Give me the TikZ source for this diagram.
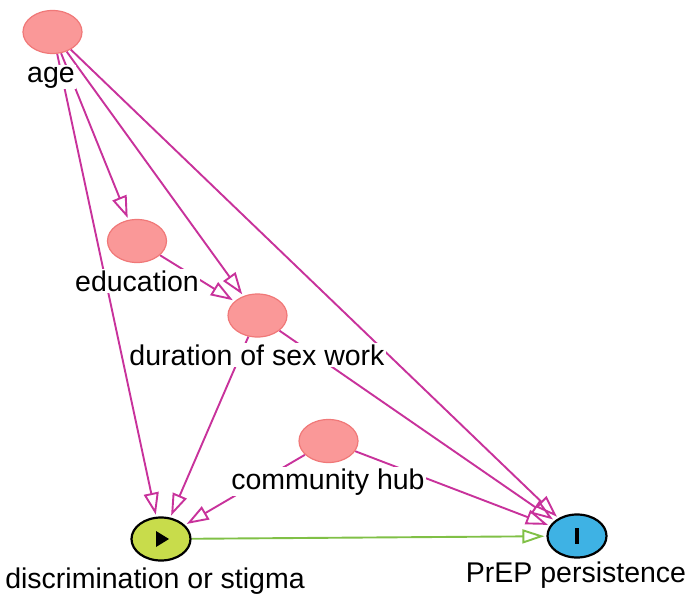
\documentclass[tikz,border=0pt]{standalone}
\usepackage{fontspec}
\setmainfont{Liberation Sans}
\usetikzlibrary{arrows.meta,shapes.geometric,calc}
\pgfdeclarelayer{background}
\pgfsetlayers{background,main}
\definecolor{edgemag}{RGB}{200,50,155}
\definecolor{edgegreen}{RGB}{128,192,70}
\definecolor{pinkfill}{RGB}{250,152,152}
\definecolor{pinkline}{RGB}{240,120,120}
\definecolor{expfill}{RGB}{200,220,75}
\definecolor{outfill}{RGB}{62,178,228}
\begin{document}
\begin{tikzpicture}[x=1pt,y=-1pt,
  var/.style={ellipse, minimum width=59pt, minimum height=43pt, inner sep=0pt},
  adj/.style={var, fill=pinkfill, draw=pinkline, line width=1.2pt},
  keyvar/.style={var, draw=black, line width=2.2pt},
  lbl/.style={font=\fontsize{28.5}{30}\selectfont, fill=white, inner sep=1.5pt, anchor=base},
  biasedge/.style={draw=edgemag, line width=1.9pt, shorten >=2pt, -{Triangle[open,length=22pt,width=15pt]}},
  causaledge/.style={draw=edgegreen, line width=1.9pt, shorten >=2pt, -{Triangle[open,length=22pt,width=14pt]}}]
\useasboundingbox (0,0) rectangle (699,594);

\node[adj] (age) at (52.5,32) {};
\node[adj] (edu) at (137,241) {};
\node[adj] (dur) at (257.5,315.5) {};
\node[adj] (hub) at (328.5,441) {};
\node[keyvar, fill=expfill] (dis) at (161,539) {};
\node[keyvar, fill=outfill] (prep) at (577,536) {};

\fill[black] ($(dis.center)+(-5,-8)$) -- ($(dis.center)+(8,0)$) -- ($(dis.center)+(-5,8)$) -- cycle;
\fill[black] ($(prep.center)+(-2.2,-8)$) rectangle ($(prep.center)+(2.2,8)$);

\begin{pgfonlayer}{background}
\draw[biasedge] (age) -- (edu);
\draw[biasedge] (age) -- (dur);
\draw[biasedge] (age) -- (dis);
\draw[biasedge] (age) -- (prep);
\draw[biasedge] (edu) -- (dur);
\draw[biasedge] (dur) -- (dis);
\draw[biasedge] (dur) -- (prep);
\draw[biasedge] (hub) -- (dis);
\draw[biasedge] (hub) -- (prep);
\draw[causaledge] (dis) -- (prep);
\end{pgfonlayer}

\node[lbl] (lage) at (51,82) {age};
\node[lbl] (ledu) at (137,291) {education};
\node[lbl] (ldur) at (257,365) {duration of sex work};
\node[lbl] (lhub) at (328,489) {community hub};
\node[lbl] (ldis) at (155,588) {discrimination or stigma};
\node[lbl] (lprep) at (576,582) {PrEP persistence};
\end{tikzpicture}
\end{document}
